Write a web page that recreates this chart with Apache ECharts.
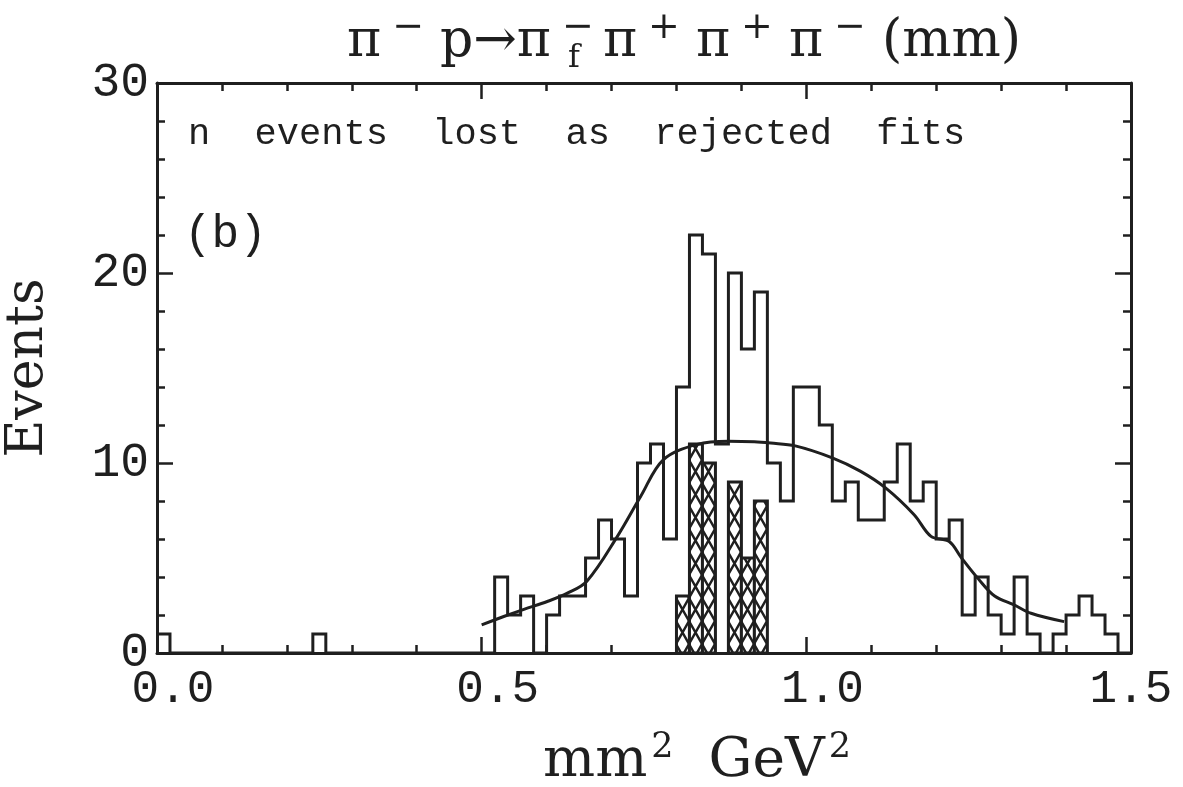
<!DOCTYPE html>
<html>
<head>
<meta charset="utf-8">
<script src="https://cdn.jsdelivr.net/npm/echarts@6/dist/echarts.min.js"></script>
<style>
  html, body { margin: 0; padding: 0; background: #ffffff; }
  #chart { width: 1183px; height: 787px; }
</style>
</head>
<body>
<div id="chart"></div>
<script>
// Histogram binning (GeV^2)
const binStart = 0.0;
const binWidth = 0.02;

// All events per 0.02 GeV^2 bin, starting at 0.00
const eventCounts = [
  1, 0, 0, 0, 0, 0, 0, 0, 0, 0, 0, 0, 1, 0, 0, 0, 0, 0, 0, 0, 0, 0, 0, 0, 0, 0,
  4, 2, 3, 0, 2, 3, 3, 5, 7, 6, 3, 10, 11, 6, 14, 22, 21, 11, 20, 16, 19, 10, 8, 14,
  14, 12, 8, 9, 7, 7, 9, 11, 8, 9, 6, 7, 2, 4, 2, 1, 4, 1, 0, 1, 2, 3, 2, 1, 0
];

// Events lost as rejected fits (hatched), starting at 0.80
const rejectedStart = 0.80;
const rejectedCounts = [3, 11, 10, 0, 9, 5, 8];

// Smooth curve
const curveX = [0.50, 0.534, 0.565, 0.601, 0.632, 0.662, 0.709, 0.745, 0.780, 0.832, 0.88, 0.92, 0.945,
                0.983, 1.04, 1.083, 1.122, 1.166, 1.192, 1.220, 1.238, 1.264, 1.29, 1.32, 1.346, 1.397];
const curveY = [1.48, 1.92, 2.30, 2.71, 3.15, 3.78, 6.14, 8.25, 10.18, 10.98, 11.15, 11.12, 11.05,
                10.9, 10.27, 9.57, 8.69, 7.28, 6.14, 5.87, 5.05, 3.94, 3.0, 2.53, 2.09, 1.65];

// Axis ticks
const xTicks = [0.0, 0.5, 1.0, 1.5];
const yTicks = [0, 10, 20, 30];

const ink = '#1f1f1f';
const monoFont = '"Liberation Mono", "DejaVu Sans Mono", monospace';
const serifFont = '"DejaVu Serif", "Liberation Serif", serif';

// step outline points: left edge of each bin with its count, closed at the right
const outline = eventCounts.map((c, i) => [binStart + i * binWidth, c]);
outline.push([binStart + eventCounts.length * binWidth, 0]);

const rejected = rejectedCounts.map((c, i) => [rejectedStart + i * binWidth, c]);
const curve = curveX.map((x, i) => [x, curveY[i]]);

// cross-hatch tile for the rejected-fit bars
function makeHatch() {
  const w = 13, h = 23;
  const cv = document.createElement('canvas');
  cv.width = w; cv.height = h;
  const g = cv.getContext('2d');
  g.fillStyle = '#ffffff';
  g.fillRect(0, 0, w, h);
  g.strokeStyle = ink;
  g.lineWidth = 2.4;
  for (const dx of [-w, 0, w]) {
    g.beginPath();
    g.moveTo(dx - w * 0.3, -h * 0.3); g.lineTo(dx + w * 1.3, h * 1.3);
    g.moveTo(dx + w * 1.3, -h * 0.3); g.lineTo(dx - w * 0.3, h * 1.3);
    g.stroke();
  }
  return cv;
}
const hatch = { image: makeHatch(), repeat: 'repeat' };

const chart = echarts.init(document.getElementById('chart'), null, { renderer: 'canvas' });

const axisCommon = {
  axisLine: { onZero: false, lineStyle: { color: ink, width: 3 } },
  axisTick: { inside: true, length: 16, lineStyle: { color: ink, width: 2.5 } },
  minorTick: { show: true, splitNumber: 5, length: 8, lineStyle: { color: ink, width: 2.5 } },
  splitLine: { show: false },
  minorSplitLine: { show: false }
};

const T = { fontFamily: serifFont, fontWeight: 'normal', color: ink, lineHeight: 66 };

chart.setOption({
  animation: false,
  backgroundColor: '#ffffff',
  title: {
    left: 331,
    top: 4,
    text: '{a|π}{s|−}{a|p→π}{z|−}{f|f}{a|π}{s|+}{a|π}{s|+}{a|π}{s|−}{a|(mm)}',
    textStyle: {
      fontWeight: 'normal',
      rich: {
        a: Object.assign({ fontSize: 52, verticalAlign: 'middle', padding: [0, 11, 0, 11] }, T),
        s: Object.assign({ fontSize: 38, verticalAlign: 'top', padding: [0, 5, 0, 0] }, T),
        z: Object.assign({ fontSize: 38, verticalAlign: 'top', width: 2 }, T),
        f: Object.assign({ fontSize: 32, verticalAlign: 'bottom', padding: [0, 12, 0, 4] }, T)
      }
    }
  },
  grid: { left: 157, right: 52, top: 83, bottom: 134, containLabel: false },
  xAxis: [
    Object.assign({
      type: 'value', position: 'bottom', min: xTicks[0], max: xTicks[xTicks.length - 1], interval: 0.5,
      axisLabel: {
        fontFamily: monoFont, fontSize: 46, color: ink, margin: 14,
        formatter: v => (v >= xTicks[xTicks.length - 1] ? '{r|' : '{n|') + v.toFixed(1) + '}',
        rich: {
          n: { fontFamily: monoFont, fontSize: 46, color: ink, padding: [0, 0, 0, 32] },
          r: { fontFamily: monoFont, fontSize: 46, color: ink }
        }
      }
    }, axisCommon),
    Object.assign({
      type: 'value', position: 'top', min: xTicks[0], max: xTicks[xTicks.length - 1], interval: 0.5,
      axisLabel: { show: false }
    }, axisCommon)
  ],
  yAxis: [
    Object.assign({
      type: 'value', position: 'left', min: yTicks[0], max: yTicks[yTicks.length - 1], interval: 10,
      axisLabel: { fontFamily: monoFont, fontSize: 48, color: ink, margin: 8 }
    }, axisCommon),
    Object.assign({
      type: 'value', position: 'right', min: yTicks[0], max: yTicks[yTicks.length - 1], interval: 10,
      axisLabel: { show: false }
    }, axisCommon)
  ],
  graphic: [
    {
      type: 'text', left: 188, top: 116, z: 10,
      style: { text: 'n  events  lost  as  rejected  fits', font: '37px ' + monoFont, fill: ink }
    },
    {
      type: 'text', left: 184, top: 212, z: 10,
      style: { text: '(b)', font: '46px ' + monoFont, fill: ink }
    },
    {
      type: 'text', x: 28, y: 368, rotation: Math.PI / 2, z: 10,
      style: { text: 'Events', font: '52px ' + serifFont, fill: ink, align: 'center', verticalAlign: 'middle' }
    },
    {
      type: 'text', x: 697, y: 762, z: 10,
      style: {
        text: '{a|mm}{s|2}{a|  GeV}{s|2}', align: 'center', verticalAlign: 'middle',
        rich: {
          a: { fontFamily: serifFont, fontSize: 55, fill: ink, lineHeight: 64, verticalAlign: 'middle' },
          s: { fontFamily: serifFont, fontSize: 35, fill: ink, lineHeight: 64, verticalAlign: 'top', padding: [0, 0, 0, 4] }
        }
      }
    }
  ],
  series: [
    {
      name: 'rejected fits',
      type: 'custom',
      xAxisIndex: 0, yAxisIndex: 0,
      z: 2,
      data: rejected,
      renderItem: function (params, api) {
        const x0 = api.value(0), c = api.value(1);
        if (c <= 0) return null;
        const pTop = api.coord([x0, c]);
        const pBot = api.coord([x0 + binWidth, 0]);
        return {
          type: 'rect',
          shape: { x: pTop[0], y: pTop[1], width: pBot[0] - pTop[0], height: pBot[1] - pTop[1] },
          style: { fill: hatch, stroke: ink, lineWidth: 3 }
        };
      }
    },
    {
      name: 'events',
      type: 'line',
      xAxisIndex: 0, yAxisIndex: 0,
      step: 'end',
      z: 3,
      symbol: 'none',
      data: outline,
      lineStyle: { color: ink, width: 3, join: 'miter' }
    },
    {
      name: 'curve',
      type: 'line',
      xAxisIndex: 0, yAxisIndex: 0,
      smooth: 0.35,
      z: 4,
      symbol: 'none',
      data: curve,
      lineStyle: { color: ink, width: 3 }
    }
  ]
});
</script>
</body>
</html>
